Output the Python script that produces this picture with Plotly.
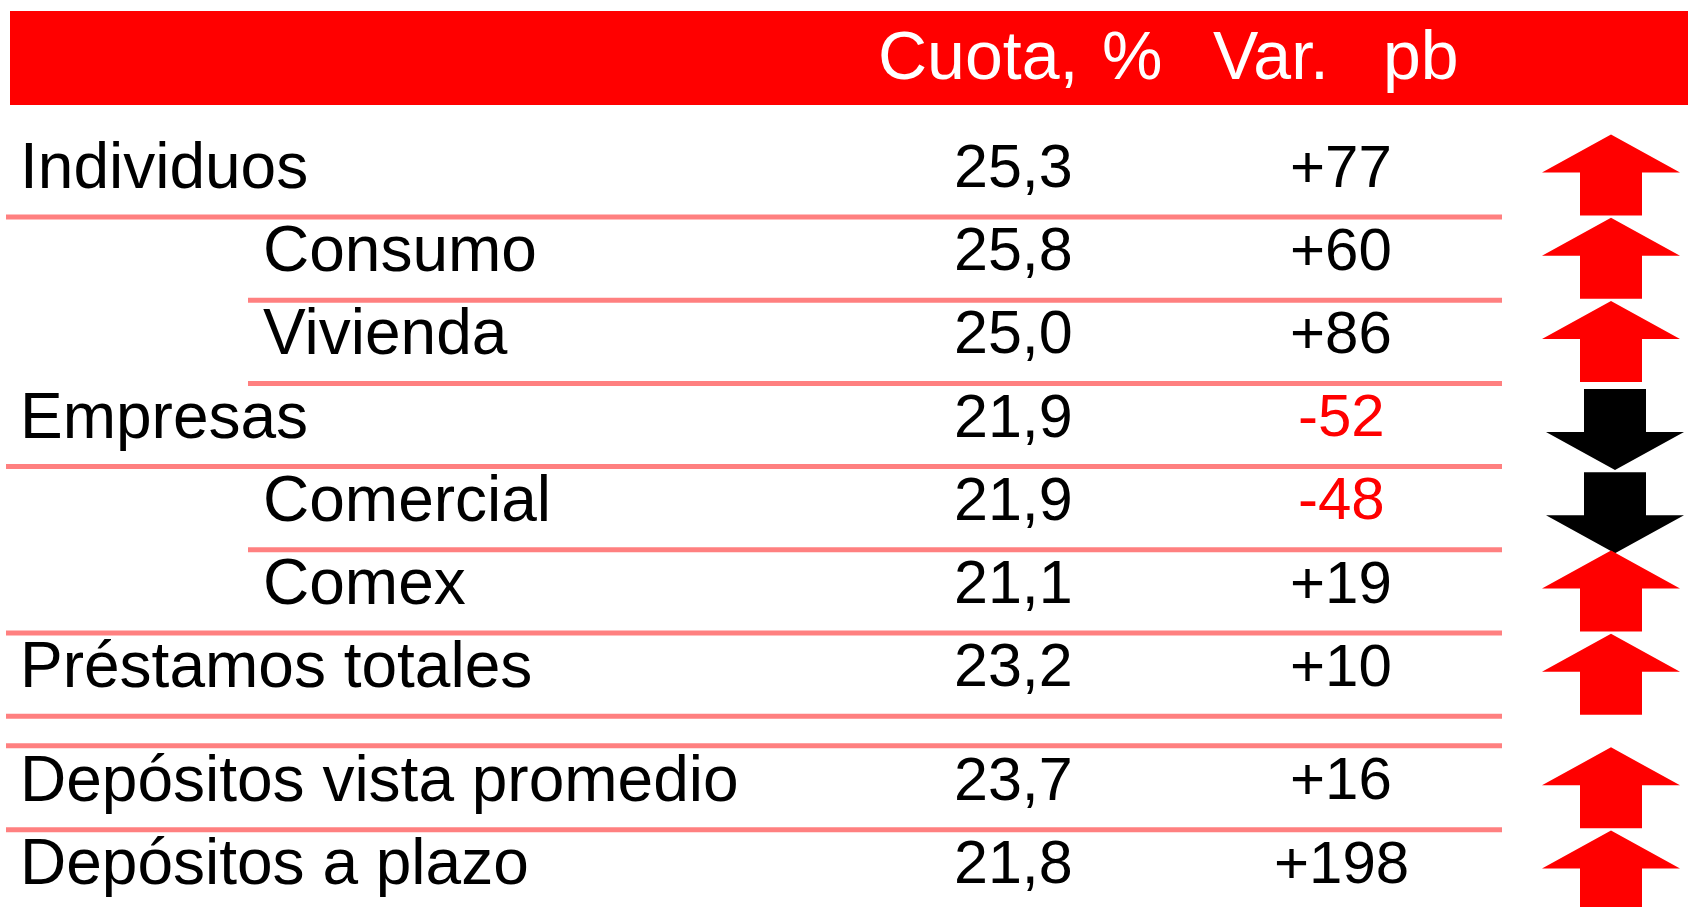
import plotly.graph_objects as go

# ---- data ----
categories = ["Individuos", "Consumo", "Vivienda", "Empresas", "Comercial", "Comex",
              "Préstamos totales", "Depósitos vista promedio", "Depósitos a plazo"]
level = [0, 1, 1, 0, 1, 1, 0, 0, 0]          # 1 = sub-item (indented)
section = [0, 0, 0, 0, 0, 0, 0, 1, 1]        # 0 = préstamos, 1 = depósitos
cuota = [25.3, 25.8, 25.0, 21.9, 21.9, 21.1, 23.2, 23.7, 21.8]
var_pb = [77, 60, 86, -52, -48, 19, 10, 16, 198]
header_cuota = ["Cuota,", "%"]
header_var = ["Var.", "pb"]

# ---- layout constants (pixels) ----
W, H = 1688, 907
FONT = "Liberation Sans, Arial, sans-serif"
ROW0, PITCH, GAP = 166, 83.2, 30.4
LINE_COL = "#FF8080"
RED = "#FF0000"
line_left = [6, 248, 248, 6, 248, 6, 6, 6]
X_MAIN, X_SUB = 21, 264
X_CUOTA, X_VAR = 1014, 1342
ARROW_X, ARROW_W, SHAFT_W, HEAD_H, ARROW_H, ARROW_DY = 1611, 138, 62, 38, 81, 9
DOWN_DX, DOWN_DY = 4, 5
TX, TY = 9, 30   # text placement correction (pixels)

yc = [ROW0 + PITCH * i + GAP * s for i, s in enumerate(section)]

fig = go.Figure()
shapes = []
annotations = []

# header band
shapes.append(dict(type="rect", xref="x", yref="y", x0=10, x1=W, y0=11, y1=105,
                   fillcolor=RED, line=dict(width=0), layer="below"))
hfont = dict(family=FONT, size=68, color="white")
hy = 55 + TY
annotations += [
    dict(x=877 + TX, y=hy, text=header_cuota[0], xanchor="left", yanchor="middle", font=hfont),
    dict(x=1133 + TX, y=hy, text=header_cuota[1], xanchor="center", yanchor="middle", font=hfont),
    dict(x=1212 + TX, y=hy, text=header_var[0], xanchor="left", yanchor="middle", font=hfont),
    dict(x=1422 + TX, y=hy, text=header_var[1], xanchor="center", yanchor="middle", font=hfont),
]

# row separator lines
for i in range(len(categories) - 1):
    shapes.append(dict(type="line", xref="x", yref="y", x0=line_left[i], x1=1502,
                       y0=yc[i] + 51, y1=yc[i] + 51, line=dict(color=LINE_COL, width=5)))
# separator above the deposits block
first_dep = section.index(1)
shapes.append(dict(type="line", xref="x", yref="y", x0=6, x1=1502,
                   y0=yc[first_dep] - 33, y1=yc[first_dep] - 33,
                   line=dict(color=LINE_COL, width=5)))

bfont = dict(family=FONT, size=64, color="black")
for i, name in enumerate(categories):
    ty = yc[i] + TY
    annotations.append(dict(x=(X_SUB if level[i] else X_MAIN) + TX - 2, y=ty, text=name,
                            xanchor="left", yanchor="middle", font=bfont))
    annotations.append(dict(x=X_CUOTA + TX, y=ty, text=f"{cuota[i]:.1f}".replace(".", ","),
                            xanchor="center", yanchor="middle",
                            font=dict(family=FONT, size=61, color="black")))
    v = var_pb[i]
    annotations.append(dict(x=X_VAR + TX, y=ty, text=(f"+{v}" if v > 0 else f"{v}"),
                            xanchor="center", yanchor="middle",
                            font=dict(family=FONT, size=60, color=("black" if v > 0 else RED))))

# arrows
for i, v in enumerate(var_pb):
    up = v > 0
    cx = ARROW_X + (0 if up else DOWN_DX)
    c = yc[i] + ARROW_DY + (0 if up else DOWN_DY)
    top, bot = c - ARROW_H / 2, c + ARROW_H / 2
    hw, sw = ARROW_W / 2, SHAFT_W / 2
    xs = [cx, cx + hw, cx + sw, cx + sw, cx - sw, cx - sw, cx - hw, cx]
    if up:
        hb = top + HEAD_H
        ys = [top, hb, hb, bot, bot, hb, hb, top]
        col = RED
    else:
        hb = bot - HEAD_H
        ys = [bot, hb, hb, top, top, hb, hb, bot]
        col = "black"
    fig.add_trace(go.Scatter(x=xs, y=ys, mode="lines", fill="toself", fillcolor=col,
                             line=dict(width=0, color=col), hoverinfo="skip", showlegend=False))

fig.update_layout(
    width=W, height=H, margin=dict(l=0, r=0, t=0, b=0),
    paper_bgcolor="white", plot_bgcolor="white",
    xaxis=dict(range=[0, W], visible=False, fixedrange=True),
    yaxis=dict(range=[H, 0], visible=False, fixedrange=True),
    shapes=shapes, annotations=annotations, showlegend=False,
)

fig.write_html("out.html", config={"displayModeBar": False},
               post_script="document.body.style.margin='0';document.body.style.overflow='hidden';")
